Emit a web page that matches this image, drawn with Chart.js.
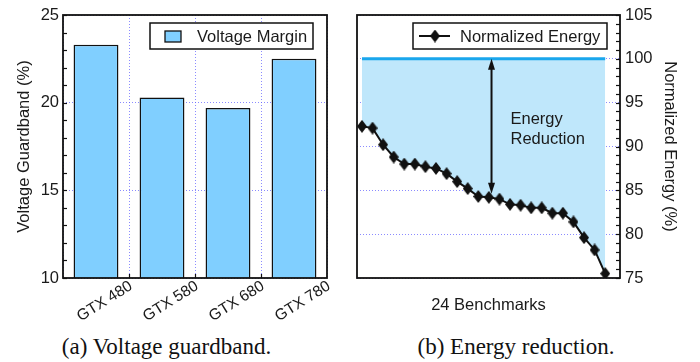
<!DOCTYPE html>
<html>
<head>
<meta charset="utf-8">
<script src="https://cdn.jsdelivr.net/npm/chart.js@4.4.1/dist/chart.umd.min.js"></script>
<style>
  body { margin: 0; background: #fff; width: 700px; height: 362px; overflow: hidden; position: relative; }
  #leftBox { position: absolute; left: 0; top: 0; width: 345px; height: 330px; }
  #rightBox { position: absolute; left: 345px; top: 0; width: 355px; height: 330px; }
  .cap { position: absolute; top: 335px; font: 23px/23px "Liberation Serif", "Times New Roman", serif; color: #111; text-align: center; white-space: nowrap; }
</style>
</head>
<body>
<div id="leftBox"><canvas id="guardChart"></canvas></div>
<div id="rightBox"><canvas id="energyChart"></canvas></div>
<div class="cap" style="left:0;width:333px">(a) Voltage guardband.</div>
<div class="cap" style="left:366px;width:300px">(b) Energy reduction.</div>
<script>
// ── Data ────────────────────────────────────────────────────
const gpuLabels = ['GTX 480', 'GTX 580', 'GTX 680', 'GTX 780'];
const guardbandPct = [23.3, 20.3, 19.7, 22.5];
const guardTicks = [10, 15, 20, 25];

const benchmarkIdx = [1, 2, 3, 4, 5, 6, 7, 8, 9, 10, 11, 12, 13, 14, 15, 16, 17, 18, 19, 20, 21, 22, 23, 24];
const normEnergy = [92.3, 92.1, 90.2, 88.8, 88.0, 88.0, 87.7, 87.5, 86.9, 86.0, 85.2, 84.3,
                    84.2, 84.0, 83.4, 83.3, 83.0, 83.0, 82.4, 82.4, 81.4, 79.6, 78.2, 75.5];
const baselineX = [1, 24];
const baselineY = [100, 100];
const energyTicks = [75, 80, 85, 90, 95, 100, 105];

// ── Shared look ─────────────────────────────────────────────
const SANS = '"Liberation Sans", Arial, Helvetica, sans-serif';
Chart.defaults.font.family = SANS;
Chart.defaults.font.size = 16.5;
Chart.defaults.color = '#1a1a1a';
const gridColor = 'rgba(100,100,255,0.75)';

function diamond(w, h) {
  const c = document.createElement('canvas');
  c.width = w; c.height = h;
  const g = c.getContext('2d');
  g.fillStyle = '#111';
  g.beginPath();
  g.moveTo(w / 2, 0); g.lineTo(w, h / 2); g.lineTo(w / 2, h); g.lineTo(0, h / 2);
  g.closePath(); g.fill();
  return c;
}
const diamondImg = diamond(10, 13);

// frame, inward ticks and boxed legend
const framePlugin = {
  id: 'frame',
  afterDraw(chart, args, opts) {
    const { ctx, chartArea: a } = chart;
    const ys = chart.scales.y;
    ctx.save();
    ctx.strokeStyle = '#111';
    ctx.lineWidth = 1.2;
    for (let v = ys.min; v <= ys.max; v += 1) {
      const py = Math.round(ys.getPixelForValue(v)) + 0.5;
      ctx.beginPath();
      if (opts.side === 'left') { ctx.moveTo(a.left, py); ctx.lineTo(a.left + 4, py); }
      else { ctx.moveTo(a.right, py); ctx.lineTo(a.right - 4, py); }
      ctx.stroke();
    }
    if (opts.catTicks) {
      const step = (a.right - a.left) / chart.data.labels.length;
      for (let i = 1; i < chart.data.labels.length; i++) {
        const px = Math.round(a.left + step * i) + 0.5;
        ctx.beginPath(); ctx.moveTo(px, a.bottom); ctx.lineTo(px, a.bottom - 4); ctx.stroke();
      }
    }
    ctx.lineWidth = 1.8;
    ctx.strokeRect(a.left, a.top, a.right - a.left, a.bottom - a.top);

    // legend box
    const L = opts.legend;
    const bx = a.right - L.inset - L.width, by = a.top + 8;
    ctx.fillStyle = '#fff';
    ctx.fillRect(bx, by, L.width, 26);
    ctx.lineWidth = 1.5;
    ctx.strokeRect(bx, by, L.width, 26);
    if (L.kind === 'bar') {
      ctx.fillStyle = '#80CFFF';
      ctx.fillRect(bx + 15, by + 8, 16, 11);
      ctx.lineWidth = 1.3;
      ctx.strokeRect(bx + 15, by + 8, 16, 11);
    } else {
      ctx.lineWidth = 2;
      ctx.beginPath(); ctx.moveTo(bx + 6, by + 13); ctx.lineTo(bx + 37, by + 13); ctx.stroke();
      ctx.drawImage(diamondImg, bx + 22 - 5, by + 13 - 6.5);
    }
    ctx.fillStyle = '#1a1a1a';
    ctx.font = '16.5px ' + SANS;
    ctx.textBaseline = 'middle';
    ctx.textAlign = 'left';
    ctx.fillText(L.text, bx + 47, by + 14);
    ctx.restore();
  }
};

// double arrow + label on the energy chart
const arrowPlugin = {
  id: 'reduction',
  afterDatasetsDraw(chart) {
    const { ctx } = chart;
    const xs = chart.scales.x, ys = chart.scales.y;
    const x = xs.getPixelForValue(13.25);
    const y1 = ys.getPixelForValue(100), y2 = ys.getPixelForValue(84.6);
    ctx.save();
    ctx.strokeStyle = '#111'; ctx.fillStyle = '#111'; ctx.lineWidth = 2;
    ctx.beginPath(); ctx.moveTo(x, y1 + 8); ctx.lineTo(x, y2 - 8); ctx.stroke();
    ctx.beginPath(); ctx.moveTo(x, y1); ctx.lineTo(x - 3.5, y1 + 11); ctx.lineTo(x + 3.5, y1 + 11); ctx.closePath(); ctx.fill();
    ctx.beginPath(); ctx.moveTo(x, y2); ctx.lineTo(x - 3.5, y2 - 11); ctx.lineTo(x + 3.5, y2 - 11); ctx.closePath(); ctx.fill();
    ctx.fillStyle = '#1a1a1a';
    ctx.font = '16.5px ' + SANS;
    ctx.textBaseline = 'middle';
    ctx.fillText('Energy', x + 19, ys.getPixelForValue(93.1));
    ctx.fillText('Reduction', x + 19, ys.getPixelForValue(90.85));
    ctx.restore();
  }
};

// ── (a) Voltage guardband ───────────────────────────────────
new Chart(document.getElementById('guardChart'), {
  type: 'bar',
  data: {
    labels: gpuLabels,
    datasets: [{
      label: 'Voltage Margin',
      data: guardbandPct,
      backgroundColor: '#80CFFF',
      borderColor: '#111',
      borderWidth: 1.5,
      barPercentage: 0.68,
      categoryPercentage: 1
    }]
  },
  options: {
    responsive: true, maintainAspectRatio: false, animation: false,
    layout: { padding: { top: 15, right: 18, left: 0, bottom: 0 } },
    plugins: {
      legend: { display: false }, tooltip: { enabled: false },
      frame: { side: 'left', catTicks: true, legend: { kind: 'bar', text: 'Voltage Margin', width: 163, inset: 14 } }
    },
    scales: {
      x: {
        grid: { color: gridColor, drawTicks: false },
        border: { display: false, dash: [1, 2] },
        ticks: { minRotation: 32, maxRotation: 32, labelOffset: 35, padding: -1, autoSkip: false, font: { size: 15.5 } },
        afterFit(s) { s.height = 52; }
      },
      y: {
        min: guardTicks[0], max: guardTicks[guardTicks.length - 1],
        grid: { color: gridColor, drawTicks: false },
        border: { display: false, dash: [1, 2] },
        ticks: { stepSize: 5, padding: 4 },
        title: { display: true, text: 'Voltage Guardband (%)', padding: { top: 15, bottom: 0 } },
        afterFit(s) { s.width = 63; }
      }
    }
  },
  plugins: [framePlugin]
});

// ── (b) Energy reduction ────────────────────────────────────
new Chart(document.getElementById('energyChart'), {
  type: 'line',
  data: {
    datasets: [
      {
        label: 'Baseline',
        data: baselineX.map((x, i) => ({ x, y: baselineY[i] })),
        borderColor: '#1AA6EC', borderWidth: 3, pointRadius: 0, fill: false
      },
      {
        label: 'Normalized Energy',
        data: benchmarkIdx.map((x, i) => ({ x, y: normEnergy[i] })),
        borderColor: '#111', borderWidth: 2,
        pointStyle: diamondImg, pointRadius: 5,
        backgroundColor: '#BFE7FB',
        fill: { value: 100 },
        tension: 0
      }
    ]
  },
  options: {
    responsive: true, maintainAspectRatio: false, animation: false,
    layout: { padding: { top: 15, right: 0, left: 12, bottom: 0 } },
    plugins: {
      legend: { display: false }, tooltip: { enabled: false },
      frame: { side: 'right', legend: { kind: 'line', text: 'Normalized Energy', width: 194, inset: 13 } }
    },
    scales: {
      x: {
        type: 'linear', min: 0.53, max: 25.4,
        grid: { display: false },
        border: { display: false },
        ticks: { display: false },
        title: { display: true, text: '24 Benchmarks', padding: { top: 0, bottom: 15 } },
        afterFit(s) { s.height = 52; }
      },
      y: {
        position: 'right',
        min: energyTicks[0], max: energyTicks[energyTicks.length - 1],
        grid: { color: gridColor, drawTicks: false },
        border: { display: false, dash: [1, 2] },
        ticks: { stepSize: 5, padding: 5 },
        title: { display: true, text: 'Normalized Energy (%)', padding: { top: 21, bottom: 0 } },
        afterFit(s) { s.width = 80; }
      }
    }
  },
  plugins: [framePlugin, arrowPlugin]
});
</script>
</body>
</html>
